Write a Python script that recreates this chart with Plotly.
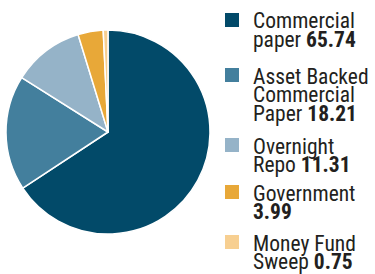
import plotly.graph_objects as go

categories = ["Commercial paper", "Asset Backed Commercial Paper", "Overnight Repo", "Government", "Money Fund Sweep"]
values = [65.74, 18.21, 11.31, 3.99, 0.75]
value_labels = ["65.74", "18.21", "11.31", "3.99", "0.75"]
legend_lines = [
    ["Commercial", "paper"],
    ["Asset Backed", "Commercial", "Paper"],
    ["Overnight", "Repo"],
    ["Government", ""],
    ["Money Fund", "Sweep"],
]
colors = ["#024a69", "#437f9d", "#95b3c8", "#e8a838", "#f7cf91"]

W, H = 375, 274
FONT = "Roboto Condensed, sans-serif"

fig = go.Figure(go.Pie(
    labels=categories, values=values, sort=False, direction="clockwise",
    marker=dict(colors=colors, line=dict(color="white", width=1.5)),
    textinfo="none", hoverinfo="skip", showlegend=False,
    domain=dict(x=[6 / W, 210 / W], y=[(H - 234) / H, (H - 30) / H]),
))

# legend layout: pixel baseline of each entry's first line
entry_first_baseline = [28, 83, 153, 200, 250]
line_h = 18.6
fs = 21.5
shapes = []
annotations = []
for i, (lines, val) in enumerate(zip(legend_lines, value_labels)):
    b0 = entry_first_baseline[i]
    shapes.append(dict(type="rect", xref="paper", yref="paper",
                       x0=225 / W, x1=239 / W, y0=(H - (b0 - 1)) / H, y1=(H - (b0 - 15)) / H,
                       fillcolor=colors[i], line=dict(width=0)))
    for j, ln in enumerate(lines):
        txt = ln
        if j == len(lines) - 1:
            txt = (ln + " " if ln else "") + "<b>" + val + "</b>"
        base = b0 + j * line_h
        annotations.append(dict(text=txt, xref="paper", yref="paper", x=252 / W,
                                y=(H - (base - 7)) / H, xanchor="left", yanchor="middle",
                                showarrow=False, font=dict(family=FONT, size=fs, color="#231f20"),
                                borderpad=0))

fig.update_layout(width=W, height=H, margin=dict(l=0, r=0, t=0, b=0),
                  paper_bgcolor="white", plot_bgcolor="white",
                  shapes=shapes, annotations=annotations)
fig.write_html("out.html", config={"displayModeBar": False},
               post_script="document.body.style.margin='0';")
